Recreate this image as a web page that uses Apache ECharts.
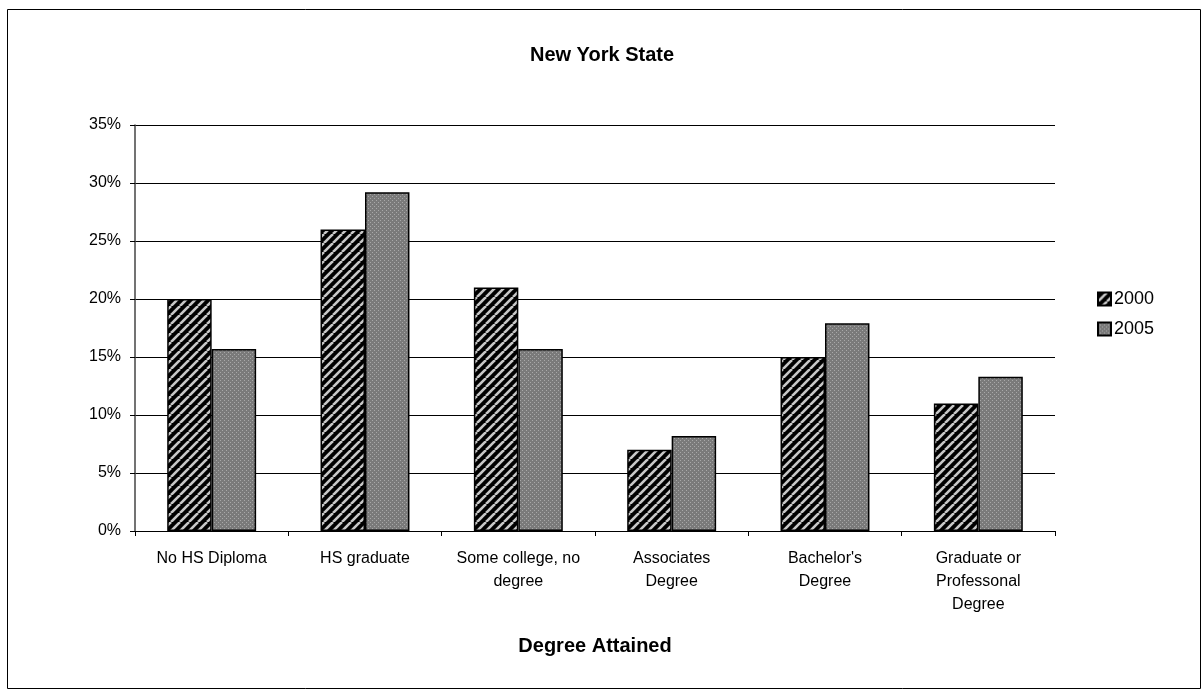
<!DOCTYPE html>
<html>
<head>
<meta charset="utf-8">
<script src="https://cdn.jsdelivr.net/npm/echarts@6/dist/echarts.min.js"></script>
<style>
html,body{margin:0;padding:0;background:#fff;}
#chart{width:1204px;height:692px;}
</style>
</head>
<body>
<div id="chart"></div>
<script>
const categories = ['No HS Diploma', 'HS graduate', 'Some college, no\ndegree', 'Associates\nDegree', "Bachelor's\nDegree", 'Graduate or\nProfessonal\nDegree'];
const seriesNames = ['2000', '2005'];
const values2000 = [20.0, 26.0, 21.0, 7.0, 15.0, 11.0];
const values2005 = [15.7, 29.2, 15.7, 8.2, 17.9, 13.3];
const yTicks = [0, 5, 10, 15, 20, 25, 30, 35];

function stripePattern() {
  const s = 9;
  const c = document.createElement('canvas');
  c.width = s; c.height = s;
  const g = c.getContext('2d');
  g.fillStyle = '#000';
  g.fillRect(0, 0, s, s);
  g.strokeStyle = '#c8c8c8';
  g.lineWidth = 2.6;
  for (let k = -1; k <= 1; k++) {
    g.beginPath();
    g.moveTo(k * s, s);
    g.lineTo(k * s + s, 0);
    g.stroke();
  }
  return c;
}
function dotPattern() {
  const c = document.createElement('canvas');
  c.width = 4; c.height = 4;
  const g = c.getContext('2d');
  g.fillStyle = '#7a7a7a';
  g.fillRect(0, 0, 4, 4);
  g.fillStyle = '#a8a8a8';
  g.fillRect(0, 0, 1, 1);
  g.fillRect(2, 2, 1, 1);
  return c;
}

const chart = echarts.init(document.getElementById('chart'), null, {renderer: 'canvas'});
const font = 'Liberation Sans, Arial, sans-serif';
chart.setOption({
  animation: false,
  backgroundColor: '#fff',
  textStyle: {fontFamily: font, color: '#000'},
  graphic: [{
    type: 'rect', left: 5, top: 7,
    shape: {width: 1193, height: 679},
    style: {fill: 'none', stroke: '#000', lineWidth: 1}
  }],
  title: {
    text: 'New York State', left: 'center', top: 40,
    textStyle: {fontFamily: font, fontSize: 20, fontWeight: 'bold', color: '#000'}
  },
  legend: {
    orient: 'vertical', left: 1097, top: 290, padding: 0,
    itemWidth: 13, itemHeight: 13, itemGap: 12,
    icon: 'rect',
    textStyle: {fontFamily: font, fontSize: 18, color: '#000', padding: [0, 0, 0, -2]},
    data: seriesNames
  },
  grid: {left: 135, right: 149, top: 125, bottom: 161},
  xAxis: {
    type: 'category', data: categories,
    name: 'Degree Attained', nameLocation: 'middle', nameGap: 105,
    nameTextStyle: {fontFamily: font, fontSize: 20, fontWeight: 'bold', color: '#000'},
    axisLine: {lineStyle: {color: '#000', width: 1}},
    axisTick: {show: true, length: 5, lineStyle: {color: '#000'}},
    axisLabel: {fontFamily: font, fontSize: 16, color: '#000', margin: 16, lineHeight: 23, interval: 0}
  },
  yAxis: {
    type: 'value', min: yTicks[0], max: yTicks[yTicks.length - 1], interval: 5,
    axisLine: {show: true, lineStyle: {color: '#444', width: 1.5}},
    axisTick: {show: true, length: 5, lineStyle: {color: '#000'}},
    axisLabel: {fontFamily: font, fontSize: 16, color: '#000', margin: 14, formatter: '{value}%'},
    splitLine: {lineStyle: {color: '#000', width: 1}}
  },
  series: [{
    name: seriesNames[0], type: 'bar', data: values2000,
    barGap: '0%', barCategoryGap: '42%',
    itemStyle: {color: {image: stripePattern(), repeat: 'repeat'}, borderColor: '#000', borderWidth: 1.5}
  }, {
    name: seriesNames[1], type: 'bar', data: values2005,
    barGap: '0%', barCategoryGap: '42%',
    itemStyle: {color: {image: dotPattern(), repeat: 'repeat'}, borderColor: '#000', borderWidth: 1.5}
  }]
});
</script>
</body>
</html>
